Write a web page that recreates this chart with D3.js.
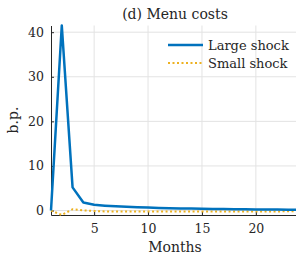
<!DOCTYPE html>
<html>
<head>
<meta charset="utf-8">
<script src="https://cdn.jsdelivr.net/npm/d3@7"></script>
<style>
body { margin: 0; background: #fff; }
svg { display: block; }
text { font-family: "DejaVu Serif", "Liberation Serif", serif; fill: #262626; }
</style>
</head>
<body>
<svg></svg>
<script>
var blue = "#0072BD"
var orange = "#EDB120"

// months 1..24
var months = d3.range(1, 25);
var largeShock = [0, 41.5, 5.2, 1.8, 1.3, 1.1, 0.95, 0.85, 0.75, 0.66, 0.58, 0.52, 0.47, 0.43,
                  0.39, 0.36, 0.33, 0.3, 0.28, 0.26, 0.24, 0.22, 0.2, 0.19];
var smallShock = [0, -1.0, 0.3, 0.05, -0.1, -0.2, -0.22, -0.24, -0.24, -0.24, -0.23, -0.23, -0.22, -0.22,
                  -0.21, -0.21, -0.2, -0.2, -0.2, -0.19, -0.19, -0.19, -0.18, -0.18];
var xTicks = [5, 10, 15, 20];
var yTicks = [0, 10, 20, 30, 40];
var seriesNames = ["Large shock", "Small shock"];

var svgWidth = 296, svgHeight = 255;
var svg = d3.select("svg")
    .attr("width", svgWidth)
    .attr("height", svgHeight);

var plotLeft = 51, plotRight = 299, plotTop = 25.5, plotBottom = 215;

var xScale = d3.scaleLinear().domain([1, 24]).range([plotLeft, plotRight]);
var yScale = d3.scaleLinear().domain([-1, 41.5]).range([plotBottom, plotTop]);

//grid
svg.append("g").selectAll("line").data(xTicks).enter().append("line")
    .attr("x1", d => xScale(d)).attr("x2", d => xScale(d))
    .attr("y1", plotTop).attr("y2", plotBottom)
    .attr("stroke", "#e3e3e3").attr("stroke-width", 1);
svg.append("g").selectAll("line").data(yTicks).enter().append("line")
    .attr("x1", plotLeft).attr("x2", plotRight)
    .attr("y1", d => yScale(d)).attr("y2", d => yScale(d))
    .attr("stroke", "#e3e3e3").attr("stroke-width", 1);

//axes, ticks inward
var x_axis = d3.axisBottom(xScale).tickValues(xTicks).tickSizeInner(-3).tickSizeOuter(0).tickPadding(9);
var y_axis = d3.axisLeft(yScale).tickValues(yTicks).tickSizeInner(-3).tickSizeOuter(0).tickPadding(7);

var gx = svg.append("g").attr("transform", "translate(0," + plotBottom + ")").call(x_axis);
var gy = svg.append("g").attr("transform", "translate(" + plotLeft + ",0)").call(y_axis);
[gx, gy].forEach(function(g) {
    g.select(".domain").attr("stroke", "#262626").attr("stroke-width", 1);
    g.selectAll(".tick line").attr("stroke", "#262626");
    g.selectAll(".tick text").style("font-size", "12.5px").attr("fill", "#262626")
        .style("font-family", "'DejaVu Serif', serif");
});

//lines
var line = d3.line().x((d, i) => xScale(months[i])).y(d => yScale(d));
svg.append("path").datum(smallShock)
    .attr("d", line).attr("fill", "none")
    .attr("stroke", orange).attr("stroke-width", 2)
    .attr("stroke-dasharray", "2,2.5");
svg.append("path").datum(largeShock)
    .attr("d", line).attr("fill", "none")
    .attr("stroke", blue).attr("stroke-width", 2.5)
    .attr("stroke-linejoin", "round");

//title and labels
svg.append("text").attr("x", 175).attr("y", 19).attr("text-anchor", "middle")
    .style("font-size", "14px").text("(d) Menu costs");
svg.append("text").attr("x", 175).attr("y", 252).attr("text-anchor", "middle")
    .style("font-size", "14px").text("Months");
svg.append("text").attr("transform", "translate(18,120) rotate(-90)").attr("text-anchor", "middle")
    .style("font-size", "14px").text("b.p.");

//legend
var legend = svg.append("g");
var colors = [blue, orange];
seriesNames.forEach(function(name, i) {
    var ly = 45 + i * 18;
    legend.append("line").attr("x1", 168).attr("x2", 203).attr("y1", ly).attr("y2", ly)
        .attr("stroke", colors[i]).attr("stroke-width", i == 0 ? 2.5 : 2)
        .attr("stroke-dasharray", i == 0 ? null : "2,2.5");
    legend.append("text").attr("x", 208).attr("y", ly + 5)
        .style("font-size", "13px").text(name);
});
</script>
</body>
</html>
